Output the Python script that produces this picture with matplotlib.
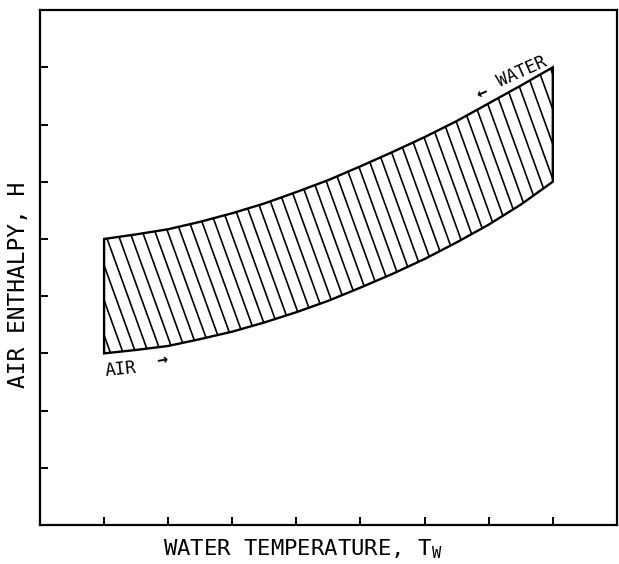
#!/usr/bin/env python3
"""
Counter-flow operating band: air enthalpy vs water temperature
"""

import matplotlib
matplotlib.use('Agg')
import matplotlib.pyplot as plt
from matplotlib.patches import Polygon
import numpy as np

plt.rcParams['font.family'] = ['DejaVu Sans Mono']

# Data (axis units, ticks at 1..8)
water_temp = [1.0, 1.5, 2.0, 2.5, 3.0, 3.5, 4.0, 4.5, 5.0, 5.5, 6.0, 6.5, 7.0, 7.5, 8.0]
water_line = [5.0, 5.08, 5.17, 5.30, 5.45, 5.62, 5.82, 6.03, 6.27, 6.52, 6.78, 7.06, 7.37, 7.68, 8.0]
air_line = [3.0, 3.06, 3.13, 3.25, 3.38, 3.54, 3.72, 3.92, 4.15, 4.39, 4.65, 4.94, 5.25, 5.6, 6.0]
x_ticks = [1, 2, 3, 4, 5, 6, 7, 8]
y_ticks = [1, 2, 3, 4, 5, 6, 7, 8]


def main():
    fig = plt.figure(figsize=(6.19, 5.64), dpi=100)
    ax = fig.add_axes([0.0646, 0.0691, 0.932, 0.913])
    ax.set_xlim(0, 9)
    ax.set_ylim(0, 9)

    # band outline
    xs = np.array(water_temp)
    verts = list(zip(xs, water_line)) + list(zip(xs[::-1], air_line[::-1]))
    band = Polygon(verts, closed=True, facecolor='none', edgecolor='black',
                   linewidth=1.7, joinstyle='miter')
    ax.add_patch(band)

    # hatching, clipped to the band
    clip = Polygon(verts, closed=True, transform=ax.transData)
    slope = -3.1
    for x0 in np.arange(-3.0, 11.0, 0.197):
        hx = np.array([x0 - 3, x0 + 3])
        hy = 9 + slope * (hx - x0)
        ln, = ax.plot(hx, hy, color='black', linewidth=1.2)
        ln.set_clip_path(clip)

    # flow labels
    ax.text(1.0, 2.72, 'AIR', ha='left', va='center', fontsize=12.5, rotation=6)
    ax.text(1.9, 2.88, '\u2192', ha='center', va='center', fontsize=13, rotation=10,
            fontweight='bold')
    ax.text(7.52, 7.92, 'WATER', ha='center', va='center', fontsize=12.5, rotation=24)
    ax.text(6.9, 7.56, '\u2190', ha='center', va='center', fontsize=13, rotation=24,
            fontweight='bold')

    # axes styling
    ax.set_xticks(x_ticks)
    ax.set_yticks(y_ticks)
    ax.set_xticklabels([])
    ax.set_yticklabels([])
    ax.tick_params(direction='in', length=6, width=1.4, top=False, right=False)
    for s in ax.spines.values():
        s.set_linewidth(1.6)

    ax.set_xlabel(r'WATER TEMPERATURE, T$_\mathregular{W}$', fontsize=16)
    ax.set_ylabel('AIR ENTHALPY, H', fontsize=16.5)
    ax.xaxis.set_label_coords(0.455, -0.046, transform=ax.transAxes)
    ax.yaxis.set_label_coords(-0.038, 0.466, transform=ax.transAxes)
    ax.xaxis.label.set_va('center')
    ax.yaxis.label.set_va('center')

    fig.savefig('out.png', dpi=100)
    plt.close(fig)


if __name__ == '__main__':
    main()
